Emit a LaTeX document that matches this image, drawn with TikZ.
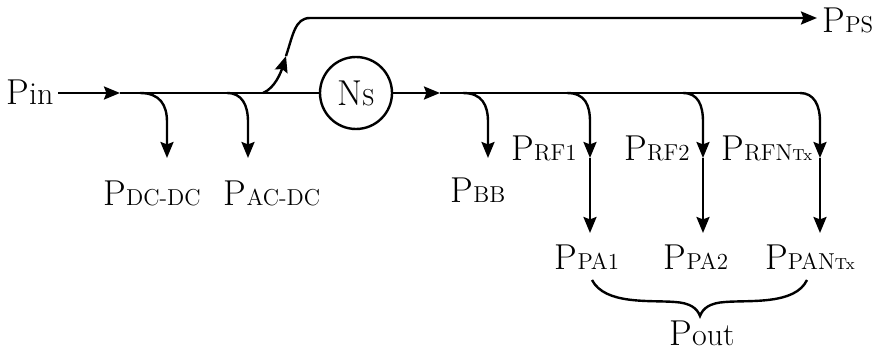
\documentclass[tikz,border=0pt]{standalone}
\usetikzlibrary{arrows.meta}
\newcommand{\sbs}[1]{{\fontsize{11.5}{13}\selectfont #1}}
\newcommand{\ssbs}[1]{{\fontsize{8}{9}\selectfont #1}}
\newcommand{\lows}[1]{{\fontsize{16}{18}\selectfont #1}}
\begin{document}
\begin{tikzpicture}[x=0.5pt,y=-0.5pt,
  flow/.style={line width=1.2pt,-{Stealth[length=8pt,width=6.5pt,inset=1.2pt]}},
  plain/.style={line width=1.2pt},
  lbl/.style={inner sep=0pt,font=\fontsize{18}{20}\selectfont}]
\useasboundingbox (0,0) rectangle (874,353);
% labels
\node[lbl] (pin) at (30,92) {P\lows{in}};
\node[lbl] (pdc) at (152,193) {P\sbs{DC-DC}};
\node[lbl] (pac) at (272,193) {P\sbs{AC-DC}};
\node[lbl] (pbb) at (478,190) {P\sbs{BB}};
\node[lbl] (prf1) at (544,148) {P\sbs{RF1}};
\node[lbl] (prf2) at (657,148) {P\sbs{RF2}};
\node[lbl] (prfn) at (767,148) {P\sbs{RFN}\ssbs{Tx}};
\node[lbl] (ppa1) at (587,257) {P\sbs{PA1}};
\node[lbl] (ppa2) at (696,257) {P\sbs{PA2}};
\node[lbl] (ppan) at (810,257) {P\sbs{PAN}\ssbs{Tx}};
\node[lbl] (pout) at (702,333) {P\lows{out}};
\node[lbl] (pps) at (848,20) {P\sbs{PS}};
\node[draw,circle,line width=1.2pt,minimum size=36pt,inner sep=0pt,font=\fontsize{18}{20}\selectfont] (ns) at (356,93) {N\sbs{S}};
% coordinates
\coordinate (a0) at (58,93);
\coordinate (m1) at (120,93);
\coordinate (m2) at (440,93);
\coordinate (e1) at (800,93);
% main line
\draw[flow] (a0) -- (m1);
\draw[plain] (m1) -- (ns.west);
\draw[flow] (ns.east) -- (m2);
\draw[plain] (m2) -- (e1);
% DC-DC branch
\coordinate (d1) at (140,93); \coordinate (d2) at (167,158);
\draw[flow] (d1) .. controls (160,93) and (167,105) .. (167,122) -- (d2);
% AC-DC branch
\coordinate (c1) at (227,93); \coordinate (c2) at (248,158);
\draw[flow] (c1) .. controls (242,93) and (248,105) .. (248,122) -- (c2);
% PS branch
\coordinate (s1) at (263,93); \coordinate (s2) at (286,56); \coordinate (s3) at (817,18);
\draw[flow] (s1) .. controls (275,88) and (281,72) .. (s2);
\draw[flow] (s2) .. controls (293,35) and (295,18) .. (310,18) -- (s3);
% BB branch
\coordinate (b1) at (463,93); \coordinate (b2) at (488,158);
\draw[flow] (b1) .. controls (482,93) and (488,105) .. (488,122) -- (b2);
% RF1
\coordinate (r1) at (567,93); \coordinate (r1m) at (590,158); \coordinate (r1e) at (590,233);
\draw[flow] (r1) .. controls (585,93) and (590,105) .. (590,122) -- (r1m);
\draw[flow] (r1m) -- (r1e);
% RF2
\coordinate (r2) at (683,93); \coordinate (r2m) at (703,158); \coordinate (r2e) at (703,233);
\draw[flow] (r2) .. controls (698,93) and (703,105) .. (703,122) -- (r2m);
\draw[flow] (r2m) -- (r2e);
% RFN
\coordinate (rnm) at (820,158); \coordinate (rne) at (820,233);
\draw[flow] (e1) .. controls (814,93) and (820,105) .. (820,122) -- (rnm);
\draw[flow] (rnm) -- (rne);
% brace
\coordinate (bl) at (592,280); \coordinate (bt) at (700,316); \coordinate (br) at (807,280);
\draw[plain] (bl) .. controls (605,305) and (650,300) .. (675,302)
  .. controls (690,303) and (697,308) .. (bt)
  .. controls (703,308) and (710,303) .. (725,302)
  .. controls (750,300) and (795,305) .. (br);
\end{tikzpicture}
\end{document}
